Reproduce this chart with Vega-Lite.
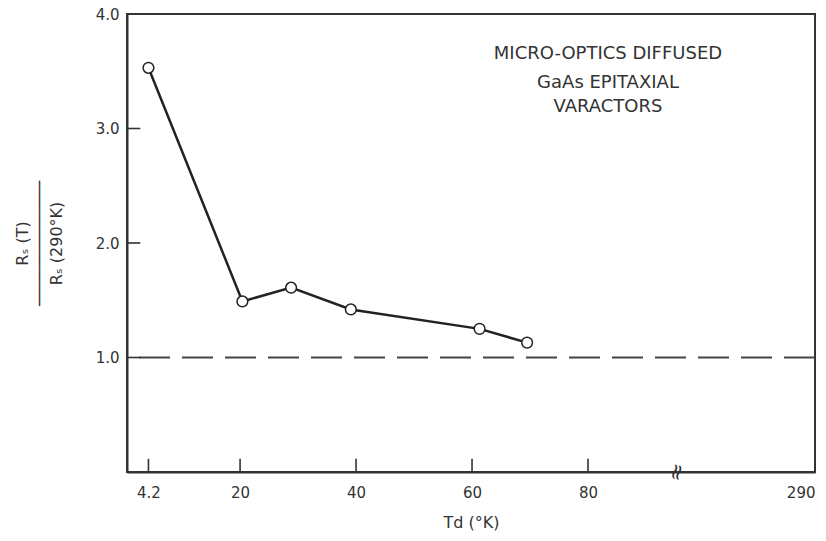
{
  "$schema": "https://vega.github.io/schema/vega-lite/v6.json",
  "width": 688,
  "height": 458,
  "autosize": {"type": "none"},
  "padding": {"left": 127, "top": 14, "right": 11, "bottom": 69},
  "background": "white",
  "config": {
    "view": {"stroke": "#333333", "strokeWidth": 2},
    "font": "DejaVu Sans",
    "axis": {
      "labelFont": "DejaVu Sans",
      "titleFont": "DejaVu Sans",
      "labelColor": "#333333",
      "titleColor": "#333333",
      "domainColor": "#333333",
      "tickColor": "#333333",
      "grid": false
    }
  },
  "datasets": {
    "pts": [
      {"T": 4.2, "ratio": 3.53},
      {"T": 20.4, "ratio": 1.49},
      {"T": 28.8, "ratio": 1.61},
      {"T": 39.1, "ratio": 1.42},
      {"T": 61.3, "ratio": 1.25},
      {"T": 69.5, "ratio": 1.13}
    ],
    "ref": [{"ratio": 1}],
    "xticks": [{"T": 4.2}, {"T": 20}, {"T": 40}, {"T": 60}, {"T": 80}],
    "yticks": [{"ratio": 1}, {"ratio": 2}, {"ratio": 3}],
    "note": [
      {"T": 98.5, "ratio": 3.65, "text": "MICRO-OPTICS DIFFUSED"},
      {"T": 98.5, "ratio": 3.4, "text": "GaAs EPITAXIAL"},
      {"T": 98.5, "ratio": 3.19, "text": "VARACTORS"}
    ],
    "brk": [{"T": 162, "ratio": 0, "text": "≈"}]
  },
  "layer": [
    {
      "data": {"name": "ref"},
      "mark": {"type": "rule", "strokeDash": [31, 12], "strokeWidth": 2, "color": "#444444"},
      "encoding": {
        "y": {"field": "ratio", "type": "quantitative", "scale": {"domain": [0, 4]}}
      }
    },
    {
      "data": {"name": "xticks"},
      "mark": {"type": "rule", "strokeWidth": 1.6, "color": "#333333"},
      "encoding": {
        "x": {"field": "T", "type": "quantitative"},
        "y": {"datum": 0},
        "y2": {"datum": 0.115}
      }
    },
    {
      "data": {"name": "yticks"},
      "mark": {"type": "rule", "strokeWidth": 1.6, "color": "#333333"},
      "encoding": {
        "y": {"field": "ratio", "type": "quantitative"},
        "x": {"datum": 0.5},
        "x2": {"datum": 2.8}
      }
    },
    {
      "data": {"name": "pts"},
      "mark": {"type": "line", "color": "#222222", "strokeWidth": 2.5},
      "encoding": {
        "x": {
          "field": "T",
          "type": "quantitative",
          "scale": {"domain": [0.5, 80, 290], "range": [0, 461, 688], "zero": false, "nice": false},
          "axis": {
            "values": [4.2, 20, 40, 60, 80, 290],
            "format": ".1~f",
            "title": "Td (°K)",
            "titleFontSize": 16,
            "titleFontWeight": "normal",
            "titlePadding": 14,
            "labelFontSize": 15,
            "labelPadding": 13,
            "ticks": false,
            "domainWidth": 2
          }
        },
        "y": {
          "field": "ratio",
          "type": "quantitative",
          "scale": {"domain": [0, 4], "nice": false},
          "axis": {
            "values": [1, 2, 3, 4],
            "format": ".1f",
            "title": ["Rₛ (T)", "─────────────", "Rₛ (290°K)"],
            "titleFontSize": 16,
            "titleFontWeight": "normal",
            "titleLineHeight": 17,
            "titlePadding": 31,
            "labelFontSize": 15,
            "labelPadding": 8,
            "ticks": false,
            "domainWidth": 2
          }
        }
      }
    },
    {
      "data": {"name": "pts"},
      "mark": {"type": "point", "shape": "circle", "filled": true, "fill": "white", "stroke": "#222222", "strokeWidth": 1.5, "size": 115, "opacity": 1},
      "encoding": {
        "x": {"field": "T", "type": "quantitative"},
        "y": {"field": "ratio", "type": "quantitative"}
      }
    },
    {
      "data": {"name": "note"},
      "mark": {"type": "text", "fontSize": 18, "color": "#333333", "align": "center", "baseline": "middle"},
      "encoding": {
        "x": {"field": "T", "type": "quantitative"},
        "y": {"field": "ratio", "type": "quantitative"},
        "text": {"field": "text"}
      }
    },
    {
      "data": {"name": "brk"},
      "mark": {"type": "text", "fontSize": 22, "color": "#333333", "align": "center", "baseline": "middle", "angle": -75},
      "encoding": {
        "x": {"field": "T", "type": "quantitative"},
        "y": {"field": "ratio", "type": "quantitative"},
        "text": {"field": "text"}
      }
    }
  ]
}
